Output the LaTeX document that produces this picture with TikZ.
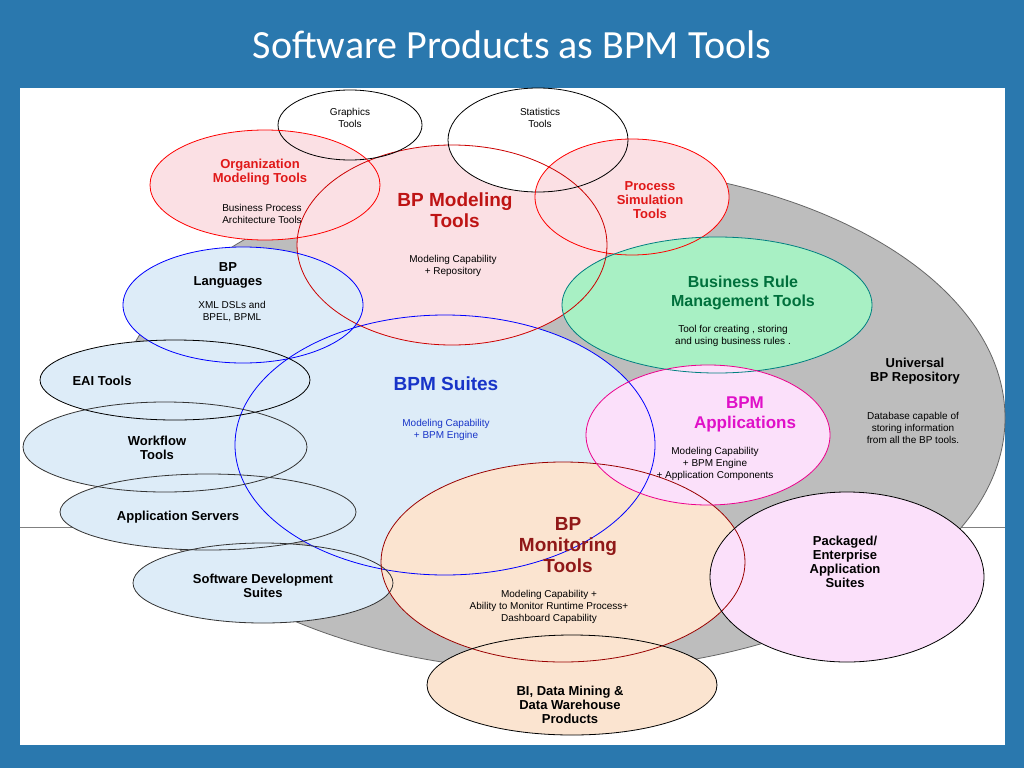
\documentclass[tikz,border=0pt]{standalone}
\usepackage{fontspec}
\setmainfont{Liberation Sans}
\newfontfamily\titlefont{Carlito}
\usetikzlibrary{positioning,shapes.geometric}
\definecolor{slide}{HTML}{2A78AE}
\definecolor{repo}{HTML}{BDBDBD}
\definecolor{suite}{HTML}{DDECF8}
\definecolor{pinkf}{HTML}{FBE0E4}
\definecolor{greenf}{HTML}{A8F0C4}
\definecolor{peach}{HTML}{FBE4D0}
\definecolor{lilac}{HTML}{FBE0FA}
\definecolor{redt}{HTML}{E01818}
\definecolor{bluet}{HTML}{1834C8}
\definecolor{greent}{HTML}{00703C}
\definecolor{magt}{HTML}{E010C8}
\definecolor{darkred}{HTML}{901818}
\begin{document}
\begin{tikzpicture}[x=1pt,y=-1pt,
        blob/.style={ellipse, inner sep=0pt},
        lbl/.style={align=center, font=\bfseries\fontsize{13}{14}\selectfont},
        big/.style={align=center, font=\bfseries\fontsize{19}{21}\selectfont},
        small/.style={align=center, font=\fontsize{10}{12}\selectfont}
    ]
        \fill[slide] (0,0) rectangle (1024,768);
        \fill[white] (20,88) rectangle (1005,745);
        \node[text=white, font=\titlefont\fontsize{40}{44}\selectfont] (title) at (512,45) {Software Products as BPM Tools};
        \draw[gray] (20,527) -- (1005,527);
        \node[blob, fill=repo, draw=black!60, thick, minimum width=890, minimum height=506] (repo) at (560,418) {};

        % ellipses: name/x/y/rx/ry/fill/outline
        \def\blobs{suites/445/445/210/130/suite/blue,
            modeling/452/245/155/100/pinkf/red!80!black,
            graphics/350/125/72/35/white/black,
            statistics/538/140/90/52/white/black,
            org/265/185/115/55/pinkf/red,
            simulation/632/197/97/58/pinkf/red,
            rules/717/305/155/68/greenf/teal,
            languages/243/305/120/58/suite/blue,
            eai/175/380/135/40/suite/black,
            workflow/165/447/142/45/suite/black!80,
            appservers/208/512/148/38/suite/black!80,
            devsuites/263/583/130/40/suite/black!80,
            monitoring/563/562/182/100/peach/red!60!black,
            applications/708/435/122/70/lilac/magenta,
            packaged/847/577/137/85/lilac/black,
            bi/572/685/145/50/peach/black}
        \foreach \n/\x/\y/\a/\b/\f/\d in \blobs
            \node[blob, fill=\f, minimum width=2*\a, minimum height=2*\b] (\n) at (\x,\y) {};
        \foreach \n/\x/\y/\a/\b/\f/\d in \blobs
            \draw[\d, thick] (\x,\y) ellipse [x radius=\a, y radius=\b];

        \node[small] (graphicsT) at (350,118) {Graphics\\Tools};
        \node[small] (statT) at (540,118) {Statistics\\Tools};
        \node[lbl, text=redt] (orgT) at (260,172) {Organization\\Modeling Tools};
        \node[small] (orgS) at (262,214) {Business Process\\Architecture Tools};
        \node[big, text=redt!85!black] (modT) at (455,210) {BP Modeling\\Tools};
        \node[small] (modS) at (453,266) {Modeling Capability\\+ Repository};
        \node[lbl, text=redt] (simT) at (650,200) {Process\\Simulation\\Tools};
        \node[lbl, font=\bfseries\fontsize{16}{19}\selectfont, text=greent] (ruleT) at (743,293) {Business Rule\\Management Tools};
        \node[small] (ruleS) at (733,336) {Tool for creating , storing\\and using business rules .};
        \node[lbl] (langT) at (228,275) {BP\\Languages};
        \node[small] (langS) at (232,312) {XML DSLs and\\BPEL, BPML};
        \node[lbl] (eaiT) at (102,381) {EAI Tools};
        \node[lbl] (wfT) at (157,448) {Workflow\\Tools};
        \node[lbl] (asT) at (178,517) {Application Servers};
        \node[lbl] (sdsT) at (263,586) {Software Development\\Suites};
        \node[big, text=bluet] (suiteT) at (446,384) {BPM Suites};
        \node[small, text=bluet] (suiteS) at (446,430) {Modeling Capability\\+ BPM Engine};
        \node[lbl] (repoT) at (915,371) {Universal\\BP Repository};
        \node[small] (repoS) at (913,428) {Database capable of\\storing information\\from all the BP tools.};
        \node[big, font=\bfseries\fontsize{17}{20}\selectfont, text=magt] (appT) at (745,414) {BPM\\Applications};
        \node[small] (appS) at (715,464) {Modeling Capability\\+ BPM Engine\\+ Application Components};
        \node[big, text=darkred] (monT) at (568,545) {BP\\Monitoring\\Tools};
        \node[small] (monS) at (549,607) {Modeling Capability +\\Ability to Monitor Runtime Process+\\Dashboard Capability};
        \node[lbl] (pkgT) at (845,562) {Packaged/\\Enterprise\\Application\\Suites};
        \node[lbl] (biT) at (570,705) {BI, Data Mining \&\\Data Warehouse\\Products};
    \end{tikzpicture}
\end{document}
